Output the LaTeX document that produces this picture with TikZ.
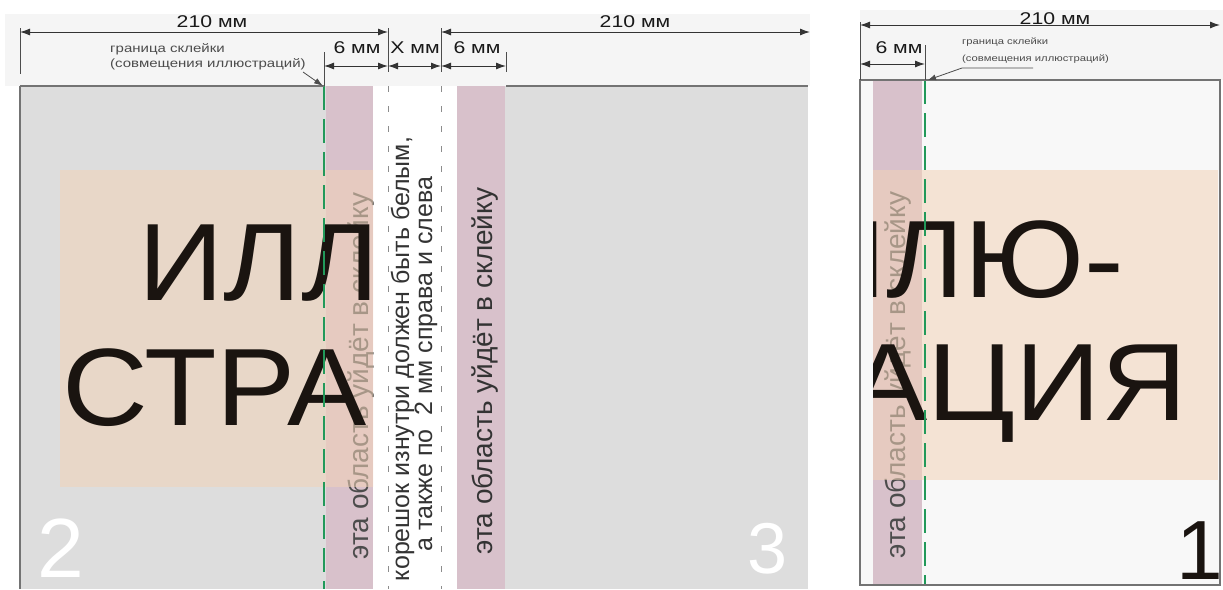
\documentclass[tikz,border=0pt]{standalone}
\usepackage{fontspec}
\setmainfont{Liberation Sans}
\newfontfamily\widesans[FakeStretch=1.25]{Liberation Sans}
\newfontfamily\bigsans[FakeStretch=1.08]{Liberation Sans}
\usetikzlibrary{arrows.meta}
\definecolor{pagegray}{HTML}{DDDDDD}
\definecolor{topstrip}{HTML}{F5F5F5}
\definecolor{pagewhite}{HTML}{F8F8F8}
\definecolor{gluepink}{HTML}{D8C1CB}
\definecolor{peach}{HTML}{F2D3B8}
\definecolor{seamgreen}{HTML}{22995A}
\definecolor{inkblack}{HTML}{1A1410}

\begin{document}
\begin{tikzpicture}[x=1pt,y=-1pt]
\tikzstyle{dim}=[{Latex[length=10pt,width=7pt]}-{Latex[length=10pt,width=7pt]}, line width=1pt, black!80]
\tikzstyle{ext}=[line width=0.8pt, black!70]
\tikzstyle{dimlbl}=[inner sep=0pt, font=\widesans\fontsize{17}{17}\selectfont, black!90]
\tikzstyle{note}=[inner sep=0pt, anchor=west, align=left, black!70]
\tikzstyle{seam}=[seamgreen, line width=2.4pt, dash pattern=on 24pt off 9pt]
\tikzstyle{spineline}=[black!45, line width=0.8pt, dash pattern=on 6pt off 14pt]
\tikzstyle{border}=[line width=1.4pt, black!55]
\tikzstyle{gluetxt}=[rotate=90, anchor=base, inner sep=0pt, font=\fontsize{28}{28}\selectfont, black!70]
\tikzstyle{bigtxt}=[inner sep=0pt, font=\bigsans\fontsize{110}{110}\selectfont, inkblack]
\tikzstyle{pageno}=[inner sep=0pt, text depth=0pt, anchor=base west]

\useasboundingbox (0,0) rectangle (1223,589);

% spread: pages 2 and 3
\fill[topstrip] (5,14) rectangle (810,86);
\fill[pagegray] (20,86) rectangle (808,589);
\fill[gluepink] (326,86) rectangle (373,589);
\fill[gluepink] (457,86) rectangle (505,589);
\fill[white] (373,86) rectangle (457,589);

\node[gluetxt] (glue2) at (368,376) {эта область уйдёт в склейку};
\node[gluetxt, font=\fontsize{25}{25}\selectfont, black!80] (spine1) at (409,359) {корешок изнутри должен быть белым,};
\node[gluetxt, font=\fontsize{25}{25}\selectfont, black!80] (spine2) at (432,364) {а также по~~2 мм справа и слева};
\node[gluetxt, black!80] (glue3) at (492,371) {эта область уйдёт в склейку};

\begin{scope}
  \clip (20,86) rectangle (373,589);
  \fill[peach, opacity=0.55] (60,170) rectangle (400,487);
  \node[bigtxt, anchor=base west] (ill2a) at (138,300) {ИЛЛЮ-};
  \node[bigtxt, anchor=base west] (ill2b) at (62,425) {СТРАЦИЯ};
\end{scope}

\draw[seam] (324,86) -- (324,589);
\draw[spineline] (388,86) -- (388,589);
\draw[spineline] (441,86) -- (441,589);
\draw[border] (20,86) -- (20,589);
\draw[border] (20,86) -- (324,86) (506,86) -- (808,86);

\node[pageno, white, font=\fontsize{84}{84}\selectfont] (no2) at (37,577) {2};
\node[pageno, white, font=\fontsize{72}{72}\selectfont] (no3) at (747,573) {3};

% dimensions of the spread
\coordinate (d0) at (20,32);
\coordinate (d1) at (388,32);
\coordinate (d2) at (441,32);
\coordinate (d3) at (810,32);
\coordinate (e0) at (324,66);
\coordinate (e1) at (388,66);
\coordinate (e2) at (441,66);
\coordinate (e3) at (506,66);
\draw[ext] (20,28) -- (20,74) (388,28) -- (388,72) (441,28) -- (441,72)
           (324,52) -- (324,86) (506,52) -- (506,72);
\path (d0) edge[dim] (d1)
      (d2) edge[dim] (d3)
      (e0) edge[dim] (e1)
      (e1) edge[dim] (e2)
      (e2) edge[dim] (e3);
\node[dimlbl] (w210a) at (212,22) {210 мм};
\node[dimlbl] (w210b) at (635,22) {210 мм};
\node[dimlbl] (w6a) at (357,48) {6 мм};
\node[dimlbl] (wx) at (415,48) {X мм};
\node[dimlbl] (w6b) at (477,48) {6 мм};

\node[note, font=\widesans\fontsize{12}{15}\selectfont] (seamnote2) at (110,57) {граница склейки\\(совмещения иллюстраций)};
\coordinate (n2) at (303,72);
\coordinate (n2tip) at (323,86);
\draw[ext, -{Latex[length=9pt,width=6pt]}] (n2) -- (n2tip);

% page 1
\fill[topstrip] (860,10) rectangle (1223,80);
\fill[pagewhite] (860,80) rectangle (1220,585);
\fill[gluepink] (873,80) rectangle (922,585);
\node[gluetxt] (glue1) at (905,375) {эта область уйдёт в склейку};

\begin{scope}
  \clip (873,80) rectangle (1220,585);
  \fill[peach, opacity=0.55] (840,170) rectangle (1218,480);
  \node[bigtxt, anchor=base east] (ill1a) at (1124,297) {ИЛЛЮ-};
  \node[bigtxt, anchor=base east] (ill1b) at (1187,420) {СТРАЦИЯ};
\end{scope}

\draw[seam] (925,80) -- (925,585);
\draw[border] (860,80) rectangle (1220,585);
\node[pageno, inkblack, font=\fontsize{84}{84}\selectfont] (no1) at (1176,579) {1};

% dimensions of page 1
\coordinate (f0) at (860,25);
\coordinate (f1) at (1220,25);
\coordinate (g0) at (860,64);
\coordinate (g1) at (925,64);
\draw[ext] (860,22) -- (860,80) (925,45) -- (925,80);
\path (f0) edge[dim] (f1)
      (g0) edge[dim] (g1);
\node[dimlbl] (w210c) at (1055,19) {210 мм};
\node[dimlbl] (w6c) at (899,48) {6 мм};

\node[note, font=\widesans\fontsize{9}{17}\selectfont] (seamnote1) at (962,51) {граница склейки\\(совмещения иллюстраций)};
\coordinate (n1) at (1033,68);
\coordinate (n1tip) at (928,80);
\draw[ext, -{Latex[length=8pt,width=6pt]}] (n1) -- (962,68) -- (n1tip);

\end{tikzpicture}
\end{document}
